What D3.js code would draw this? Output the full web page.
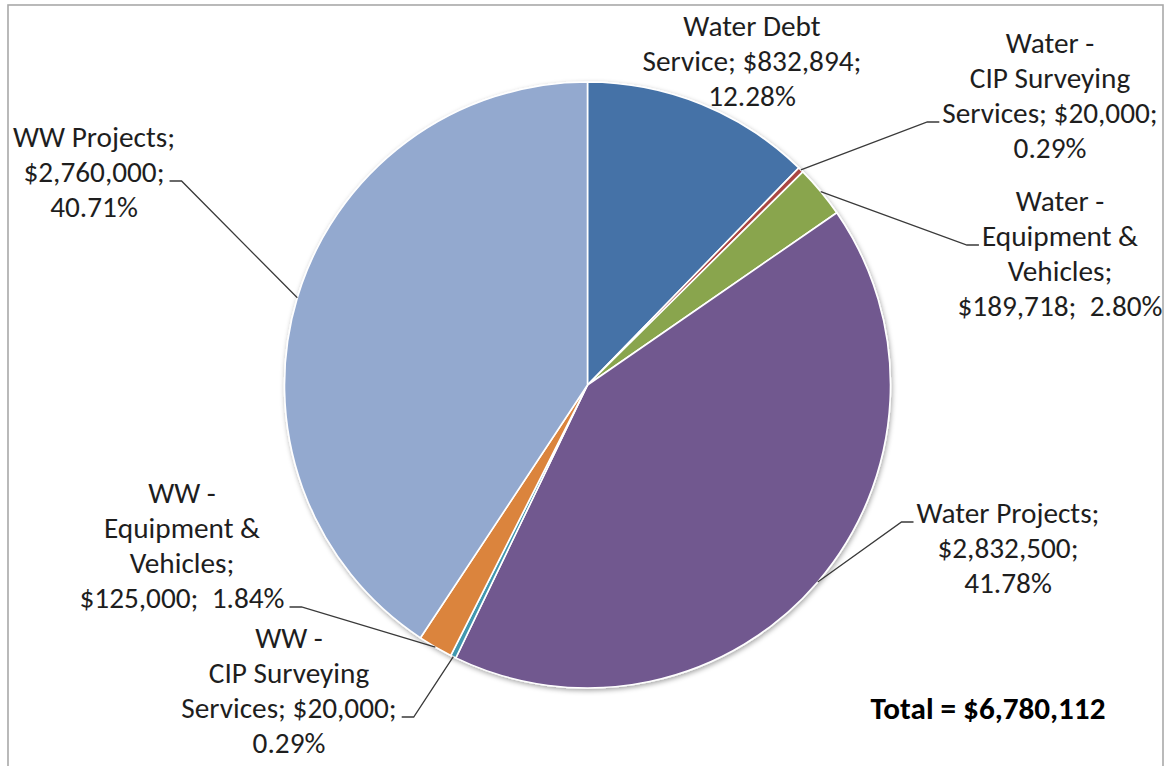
<!DOCTYPE html>
<html>
<head>
<meta charset="utf-8">
<script src="https://cdn.jsdelivr.net/npm/d3@7"></script>
<style>
  html, body { margin: 0; padding: 0; background: #ffffff; }
  svg { display: block; }
  text { white-space: pre; }
</style>
</head>
<body>
<svg id="chart" width="1165" height="766"></svg>
<script>
// Capital budget split by category
const categories = [
  "Water Debt Service",
  "Water - CIP Surveying Services",
  "Water - Equipment & Vehicles",
  "Water Projects",
  "WW - CIP Surveying Services",
  "WW - Equipment & Vehicles",
  "WW Projects"
];
const values = [832894, 20000, 189718, 2832500, 20000, 125000, 2760000];
const sliceColors = ["#4572A7", "#AA4643", "#89A54E", "#71588F", "#4198AF", "#DB843D", "#93A9CF"];

// How each data label wraps; {v} = amount, {p} = share of total
const labelLines = [
  ["Water Debt", "Service; {v};", "{p}"],
  ["Water -", "CIP Surveying", "Services; {v};", "{p}"],
  ["Water -", "Equipment &", "Vehicles;", "{v};  {p}"],
  ["Water Projects;", "{v};", "{p}"],
  ["WW -", "CIP Surveying", "Services; {v};", "{p}"],
  ["WW -", "Equipment &", "Vehicles;", "{v};  {p}"],
  ["WW Projects;", "{v};", "{p}"]
];

const totalPrefix = "Total = ";

// ---- layout ----
const W = 1165, H = 766;
const cx = 587.5, cy = 385, R = 303;
const fontFamily = "Carlito, Calibri, Lato, 'Open Sans', sans-serif";
const lineGap = 35;

// label anchors (centre x, first baseline) and leader attachment
const labelLayout = [
  { x: 752,  y: 36,  leader: null },
  { x: 1050, y: 53,  leader: { line: 2, side: "start" } },
  { x: 1060, y: 211, leader: { line: 1, side: "start" } },
  { x: 1008, y: 523, leader: { line: 0, side: "start" } },
  { x: 289,  y: 648, leader: { line: 2, side: "end" } },
  { x: 182,  y: 503, leader: { line: 3, side: "end" } },
  { x: 94,   y: 147, leader: { line: 1, side: "end" } }
];

const svg = d3.select("#chart");
const fmtMoney = d3.format("$,");
const total = d3.sum(values);
const fmtPct = v => (v / total * 100).toFixed(2) + "%";

// pick font sizes so that the label text keeps its proportions
function fitSize(str, weight, target) {
  const t = svg.append("text")
    .attr("font-family", fontFamily)
    .attr("font-weight", weight)
    .attr("font-size", 100)
    .text(str);
  const w = t.node().getComputedTextLength();
  t.remove();
  return 100 * target / w;
}
const labelSize = fitSize("Water Projects;", "normal", 183);
const totalSize = fitSize(totalPrefix + fmtMoney(total), "bold", 235);

// chart frame
svg.append("rect")
  .attr("x", 8).attr("y", 5)
  .attr("width", 1155).attr("height", 800)
  .attr("fill", "#ffffff")
  .attr("stroke", "#a9a9a9")
  .attr("stroke-width", 1.6);

// soft shadow beneath the pie
const defs = svg.append("defs");
const f = defs.append("filter").attr("id", "pieShadow")
  .attr("x", "-10%").attr("y", "-10%").attr("width", "120%").attr("height", "120%");
f.append("feDropShadow")
  .attr("dx", 1).attr("dy", 2)
  .attr("stdDeviation", 2.5)
  .attr("flood-color", "#000")
  .attr("flood-opacity", 0.35);

const pie = d3.pie().sort(null).value(d => d)
  .startAngle(0).endAngle(2 * Math.PI);
const arcs = pie(values);
const arc = d3.arc().innerRadius(0).outerRadius(R);
const rim = d3.arc().innerRadius(R).outerRadius(R);

const g = svg.append("g").attr("transform", `translate(${cx},${cy})`);
g.append("g").attr("filter", "url(#pieShadow)")
  .selectAll("path")
  .data(arcs)
  .join("path")
  .attr("d", arc)
  .attr("fill", (d, i) => sliceColors[i])
  .attr("stroke", "#ffffff")
  .attr("stroke-width", 1.6)
  .attr("stroke-linejoin", "round");

// data labels
const labelsG = svg.append("g");
const leadersG = svg.append("g");

arcs.forEach((d, i) => {
  const lay = labelLayout[i];
  const lines = labelLines[i].map(s =>
    s.replace("{v}", fmtMoney(values[i])).replace("{p}", fmtPct(values[i])));
  const t = labelsG.append("text")
    .attr("font-family", fontFamily)
    .attr("font-size", labelSize)
    .attr("fill", "#1e1e1e")
    .attr("text-anchor", "middle");
  const spans = lines.map((s, k) =>
    t.append("tspan").attr("x", lay.x).attr("y", lay.y + k * lineGap).text(s));

  if (lay.leader) {
    const sp = spans[lay.leader.line].node();
    const w = sp.getComputedTextLength();
    const ly = lay.y + lay.leader.line * lineGap - 1;
    const p = rim.centroid(d);
    const edge = [cx + p[0], cy + p[1]];
    let end, elbow;
    if (lay.leader.side === "start") {
      end = [lay.x - w / 2 - 3, ly];
      elbow = [end[0] - 12, ly];
    } else {
      end = [lay.x + w / 2 + 5, ly];
      elbow = [end[0] + 12, ly];
    }
    leadersG.append("path")
      .attr("d", d3.line()([edge, elbow, end]))
      .attr("fill", "none")
      .attr("stroke", "#3a3a3a")
      .attr("stroke-width", 1.3);
  }
});

// grand total
svg.append("text")
  .attr("x", 988).attr("y", 719)
  .attr("text-anchor", "middle")
  .attr("font-family", fontFamily)
  .attr("font-weight", "bold")
  .attr("font-size", totalSize)
  .attr("fill", "#000000")
  .text(totalPrefix + fmtMoney(total));
</script>
</body>
</html>
